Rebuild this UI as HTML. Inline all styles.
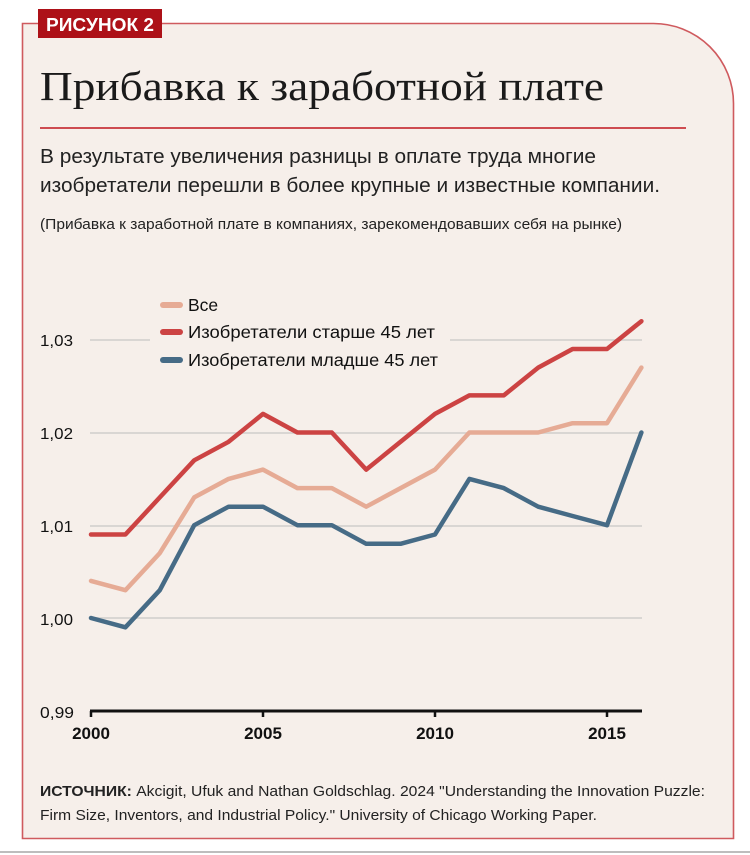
<!DOCTYPE html>
<html><head><meta charset="utf-8"><style>
html,body{margin:0;padding:0;background:#fff;}
svg{display:block;}
.s{font-family:"Liberation Sans",sans-serif;}
</style></head><body>
<svg width="750" height="855" viewBox="0 0 750 855" xmlns="http://www.w3.org/2000/svg">
<path d="M22.5,23.5 H653 A80,80 0 0 1 733.5,103.5 V838.5 H22.5 Z" fill="#f6efea" stroke="#cf5a5e" stroke-width="1.6"/>
<line x1="0" y1="852" x2="750" y2="852" stroke="#bdbdbd" stroke-width="2"/>
<rect x="38" y="9" width="124" height="29" fill="#ad1118"/>
<text class="s" x="46" y="31" font-size="18" font-weight="bold" fill="#fff" textLength="108" lengthAdjust="spacingAndGlyphs">РИСУНОК 2</text>
<text x="40" y="100" font-family="Liberation Serif,serif" font-size="41" fill="#1a1a1a" textLength="564" lengthAdjust="spacingAndGlyphs">Прибавка к заработной плате</text>
<line x1="40" y1="128" x2="686" y2="128" stroke="#c0161e" stroke-width="1.5"/>
<text class="s" x="40" y="163" font-size="20" fill="#222" textLength="556" lengthAdjust="spacingAndGlyphs">В результате увеличения разницы в оплате труда многие</text>
<text class="s" x="40" y="192" font-size="20" fill="#222" textLength="620" lengthAdjust="spacingAndGlyphs">изобретатели перешли в более крупные и известные компании.</text>
<text class="s" x="40" y="229" font-size="14.5" fill="#222" textLength="582" lengthAdjust="spacingAndGlyphs">(Прибавка к заработной плате в компаниях, зарекомендовавших себя на рынке)</text>
<g stroke="#d9d6d3" stroke-width="2">
<line x1="90" y1="340" x2="642" y2="340"/>
<line x1="90" y1="433" x2="642" y2="433"/>
<line x1="90" y1="526" x2="642" y2="526"/>
<line x1="90" y1="618" x2="642" y2="618"/>
</g>
<g class="s" font-size="16" fill="#111">
<text x="40" y="346" textLength="33" lengthAdjust="spacingAndGlyphs">1,03</text>
<text x="40" y="439" textLength="33" lengthAdjust="spacingAndGlyphs">1,02</text>
<text x="40" y="532" textLength="33" lengthAdjust="spacingAndGlyphs">1,01</text>
<text x="40" y="625" textLength="33" lengthAdjust="spacingAndGlyphs">1,00</text>
<text x="40" y="718" textLength="34" lengthAdjust="spacingAndGlyphs">0,99</text>
</g>
<rect x="150" y="290" width="300" height="82" fill="#f6efea"/>
<g stroke-linecap="round" stroke-width="6">
<line x1="163" y1="305" x2="180" y2="305" stroke="#e6ab95"/>
<line x1="163" y1="332" x2="180" y2="332" stroke="#cc4343"/>
<line x1="163" y1="360" x2="180" y2="360" stroke="#466b86"/>
</g>
<g class="s" font-size="17.5" fill="#111">
<text x="188" y="311">Все</text>
<text x="188" y="338" textLength="247" lengthAdjust="spacingAndGlyphs">Изобретатели старше 45 лет</text>
<text x="188" y="366" textLength="250" lengthAdjust="spacingAndGlyphs">Изобретатели младше 45 лет</text>
</g>
<g id="lines" fill="none" stroke-width="4.5" stroke-linejoin="round" stroke-linecap="round"></g>
<line x1="90" y1="711" x2="642" y2="711" stroke="#111" stroke-width="3"/>
<g stroke="#111" stroke-width="2.5">
<line x1="91" y1="711" x2="91" y2="717"/>
<line x1="263" y1="711" x2="263" y2="717"/>
<line x1="435" y1="711" x2="435" y2="717"/>
<line x1="607" y1="711" x2="607" y2="717"/>
</g>
<g class="s" font-size="17" font-weight="bold" fill="#111" text-anchor="middle">
<text x="91" y="739">2000</text>
<text x="263" y="739">2005</text>
<text x="435" y="739">2010</text>
<text x="607" y="739">2015</text>
</g>
<text class="s" x="40" y="796" font-size="15" fill="#222" textLength="665" lengthAdjust="spacingAndGlyphs"><tspan font-weight="bold">ИСТОЧНИК:</tspan> Akcigit, Ufuk and Nathan Goldschlag. 2024 "Understanding the Innovation Puzzle:</text>
<text class="s" x="40" y="820" font-size="15" fill="#222" textLength="557" lengthAdjust="spacingAndGlyphs">Firm Size, Inventors, and Industrial Policy." University of Chicago Working Paper.</text>
</svg>
<script>
var d={
"#e6ab95":[1.004,1.003,1.007,1.013,1.015,1.016,1.014,1.014,1.012,1.014,1.016,1.020,1.020,1.020,1.021,1.021,1.027],
"#cc4343":[1.009,1.009,1.013,1.017,1.019,1.022,1.020,1.020,1.016,1.019,1.022,1.024,1.024,1.027,1.029,1.029,1.032],
"#466b86":[1.000,0.999,1.003,1.010,1.012,1.012,1.010,1.010,1.008,1.008,1.009,1.015,1.014,1.012,1.011,1.010,1.020]};
var g=document.getElementById("lines"),ns="http://www.w3.org/2000/svg";
for(var c in d){var p=d[c].map(function(v,i){return (91+i*34.4).toFixed(1)+","+(618-(v-1)*9275).toFixed(1);}).join(" ");
var e=document.createElementNS(ns,"polyline");e.setAttribute("points",p);e.setAttribute("stroke",c);g.appendChild(e);}
</script>
</body></html>
